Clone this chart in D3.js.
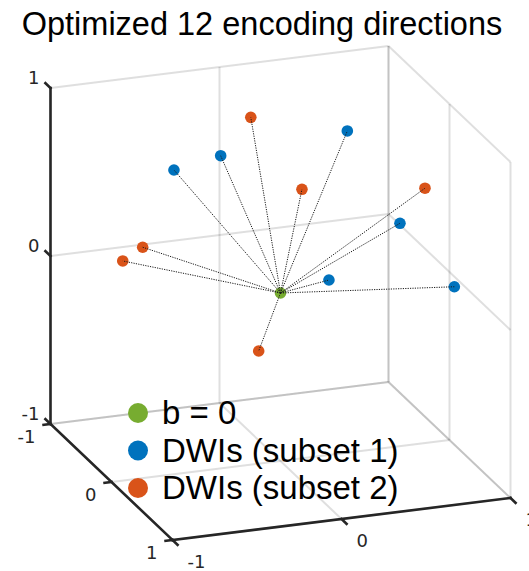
<!DOCTYPE html>
<html>
<head>
<meta charset="utf-8">
<script src="https://cdn.jsdelivr.net/npm/d3@7"></script>
<style>
  body { margin: 0; background: #fff; }
</style>
</head>
<body>
<script>
// encoding directions, unit vectors [x, y, z]
var subset1 = [
  [-0.611, -0.054, 0.790],
  [-0.398,  0.122, 0.909],
  [ 0.390,  0.015, 0.921],
  [ 0.468,  0.662, 0.585],
  [-0.044,  0.916, 0.399],
  [ 0.834,  0.539, 0.119]
];
var subset2 = [
  [-0.070, -0.293, 0.953],
  [-0.077,  0.565, 0.822],
  [ 0.791,  0.177, 0.586],
  [-0.879,  0.176, 0.443],
  [-0.946,  0.035, 0.321],
  [-0.451,  0.892, 0.019]
];
var b0 = [[0, 0, 0]];
var ticks = [-1, 0, 1];
var legendLabels = ["b = 0", "DWIs (subset 1)", "DWIs (subset 2)"];
var colors = ["#77AC30", "#0072BD", "#D95319"];

var width = 529, height = 571;

// projection of the 3D box onto the screen, one scale per screen component
var origin = [280.5, 293];
var xToSx = d3.scaleLinear().domain([-1, 1]).range([-169, 169]);
var xToSy = d3.scaleLinear().domain([-1, 1]).range([21, -21]);
var yToSx = d3.scaleLinear().domain([-1, 1]).range([-61, 61]);
var yToSy = d3.scaleLinear().domain([-1, 1]).range([-58, 58]);
var zToSy = d3.scaleLinear().domain([-1, 1]).range([168, -168]);

function project(p) {
  return [origin[0] + xToSx(p[0]) + yToSx(p[1]),
          origin[1] + xToSy(p[0]) + yToSy(p[1]) + zToSy(p[2])];
}

var svg = d3.select("body").append("svg")
  .attr("width", width)
  .attr("height", height)
  .style("font-family", "'Liberation Sans', Arial, sans-serif");

function seg(g, a, b) {
  var p = project(a), q = project(b);
  return g.append("line")
    .attr("x1", p[0]).attr("y1", p[1])
    .attr("x2", q[0]).attr("y2", q[1]);
}

// grid lines on the three back planes (floor z=-1, wall y=-1, wall x=1)
var grid = svg.append("g")
  .attr("stroke", "#262626")
  .attr("stroke-opacity", 0.15)
  .attr("stroke-width", 2);

ticks.forEach(function(t) {
  // floor
  seg(grid, [t, -1, -1], [t, 1, -1]);
  seg(grid, [-1, t, -1], [1, t, -1]);
  // wall y = -1
  seg(grid, [t, -1, -1], [t, -1, 1]);
  seg(grid, [-1, -1, t], [1, -1, t]);
  // wall x = 1
  seg(grid, [1, t, -1], [1, t, 1]);
  seg(grid, [1, -1, t], [1, 1, t]);
});

// axes
var axes = svg.append("g")
  .attr("stroke", "#262626")
  .attr("stroke-width", 2.6)
  .attr("stroke-linecap", "square");

seg(axes, [-1, -1, -1], [-1, -1, 1]); // z
seg(axes, [-1, -1, -1], [-1, 1, -1]); // y
seg(axes, [-1, 1, -1], [1, 1, -1]);   // x

var tickLen = 7;
function unit(v) { var n = Math.hypot(v[0], v[1]); return [v[0] / n, v[1] / n]; }
var ex = unit([xToSx(1) - xToSx(0), xToSy(1) - xToSy(0)]);
var ey = unit([yToSx(1) - yToSx(0), yToSy(1) - yToSy(0)]);

var tickFont = 18;
var labels = svg.append("g")
  .attr("fill", "#262626")
  .style("font-family", "'DejaVu Sans', sans-serif")
  .style("font-size", tickFont + "px");

function tick(p, dir, lx, ly, anchor, t) {
  var s = project(p);
  axes.append("line")
    .attr("x1", s[0]).attr("y1", s[1])
    .attr("x2", s[0] + dir[0] * tickLen).attr("y2", s[1] + dir[1] * tickLen);
  labels.append("text")
    .attr("x", s[0] + lx)
    .attr("y", s[1] + ly + 0.36 * tickFont)
    .attr("text-anchor", anchor)
    .text(t);
}

ticks.forEach(function(t) {
  tick([-1, -1, t], [-ey[0], -ey[1]], -11, -10, "end", t);
  tick([-1, t, -1], [-ex[0], -ex[1]], -15, 13, "end", t);
  tick([t, 1, -1], [ey[0], ey[1]], 15, 22, "start", t);
});

// markers
var groups = [b0, subset1, subset2];
groups.forEach(function(pts, i) {
  svg.append("g").selectAll("circle")
    .data(pts)
    .enter().append("circle")
      .attr("cx", function(d) { return project(d)[0]; })
      .attr("cy", function(d) { return project(d)[1]; })
      .attr("r", 5.8)
      .attr("fill", colors[i]);
});

// dotted lines from the origin to each direction
var o = project(b0[0]);
svg.append("g").selectAll("line")
  .data(subset1.concat(subset2))
  .enter().append("line")
    .attr("x1", o[0]).attr("y1", o[1])
    .attr("x2", function(d) { return project(d)[0]; })
    .attr("y2", function(d) { return project(d)[1]; })
    .attr("stroke", "#1a1a1a")
    .attr("stroke-width", 1)
    .attr("stroke-dasharray", "1.2,1.2");

// legend
var legend = svg.append("g");
legendLabels.forEach(function(l, i) {
  var y = 413 + i * 37.5;
  legend.append("circle")
    .attr("cx", 138).attr("cy", y).attr("r", 10)
    .attr("fill", colors[i]);
  legend.append("text")
    .attr("x", 162).attr("y", y + 11)
    .style("font-size", "33px")
    .attr("fill", "#000")
    .text(l);
});

// title
svg.append("text")
  .attr("x", 262).attr("y", 35)
  .attr("text-anchor", "middle")
  .style("font-size", "32.5px")
  .attr("fill", "#000")
  .text("Optimized 12 encoding directions");
</script>
</body>
</html>
